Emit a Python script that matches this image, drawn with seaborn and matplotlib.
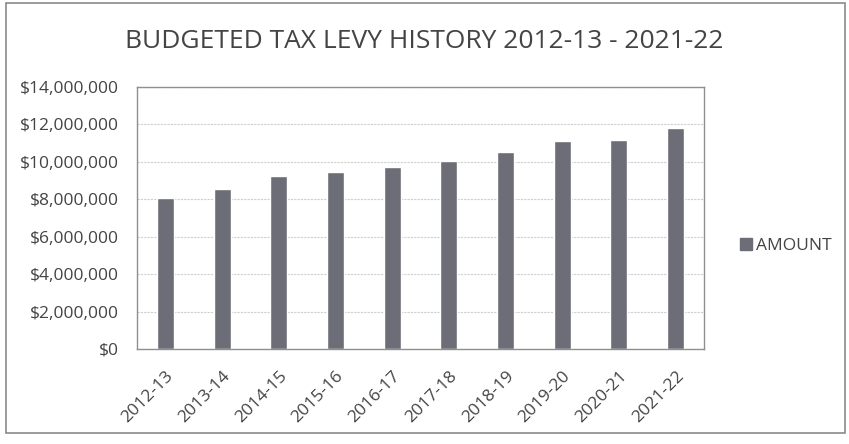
import matplotlib
matplotlib.use("Agg")
import matplotlib.pyplot as plt
import matplotlib.patches as mpatches
from matplotlib.ticker import FuncFormatter
import seaborn as sns
import pandas as pd

years = ["2012-13", "2013-14", "2014-15", "2015-16", "2016-17",
         "2017-18", "2018-19", "2019-20", "2020-21", "2021-22"]
amounts = [8050000, 8560000, 9240000, 9470000, 9700000,
           10070000, 10530000, 11140000, 11150000, 11830000]
title = "BUDGETED TAX LEVY HISTORY 2012-13 - 2021-22"
series_name = "AMOUNT"

df = pd.DataFrame({"year": years, "amount": amounts})

sns.set_theme(style="white")
plt.rcParams["font.family"] = ["Open Sans", "DejaVu Sans"]

W, H = 849, 444
fig = plt.figure(figsize=(W / 100, H / 100), dpi=100)
ax = fig.add_axes([137 / W, 1 - 349 / H, (704 - 137) / W, (349 - 87) / H])

bar_color = "#6d6d78"
sns.barplot(data=df, x="year", y="amount", color=bar_color, width=0.3,
            ax=ax, label=series_name, saturation=1)

ax.set_ylim(0, 14000000)
ax.set_yticks(range(0, 14000001, 2000000))
ax.yaxis.set_major_formatter(FuncFormatter(lambda v, p: f"${v:,.0f}"))
ax.set_xlabel("")
ax.set_ylabel("")
ax.grid(axis="y", color="#cfcfcf", linewidth=0.8, linestyle=(0, (2, 1)))
ax.set_axisbelow(True)
for s in ax.spines.values():
    s.set_visible(True)
    s.set_color("#8f8f8f")
    s.set_linewidth(1.0)
ax.tick_params(axis="y", length=0, labelsize=12.5, colors="#444444", pad=13)
ax.tick_params(axis="x", length=0, labelsize=12.5, colors="#444444", pad=14)
for lab in ax.get_xticklabels():
    lab.set_rotation(45)
    lab.set_ha("right")
    lab.set_rotation_mode("anchor")

if ax.get_legend():
    ax.get_legend().remove()
handles = [mpatches.Patch(color=bar_color)]
fig.legend(handles, [series_name], loc="center left",
           bbox_to_anchor=(724 / W, 1 - 246 / H), frameon=False,
           fontsize=12.5, handlelength=0.7, handleheight=0.7,
           handletextpad=0.25, labelcolor="#444444")

fig.text(0.5, 1 - 42 / H, title, ha="center", va="center",
         fontsize=19, color="#444444")

border = mpatches.Rectangle((6 / W, 11 / H), 839 / W, 430 / H,
                            transform=fig.transFigure, fill=False,
                            edgecolor="#8a8a8a", linewidth=1.2)
fig.patches.append(border)

fig.savefig("out.png", dpi=100)
